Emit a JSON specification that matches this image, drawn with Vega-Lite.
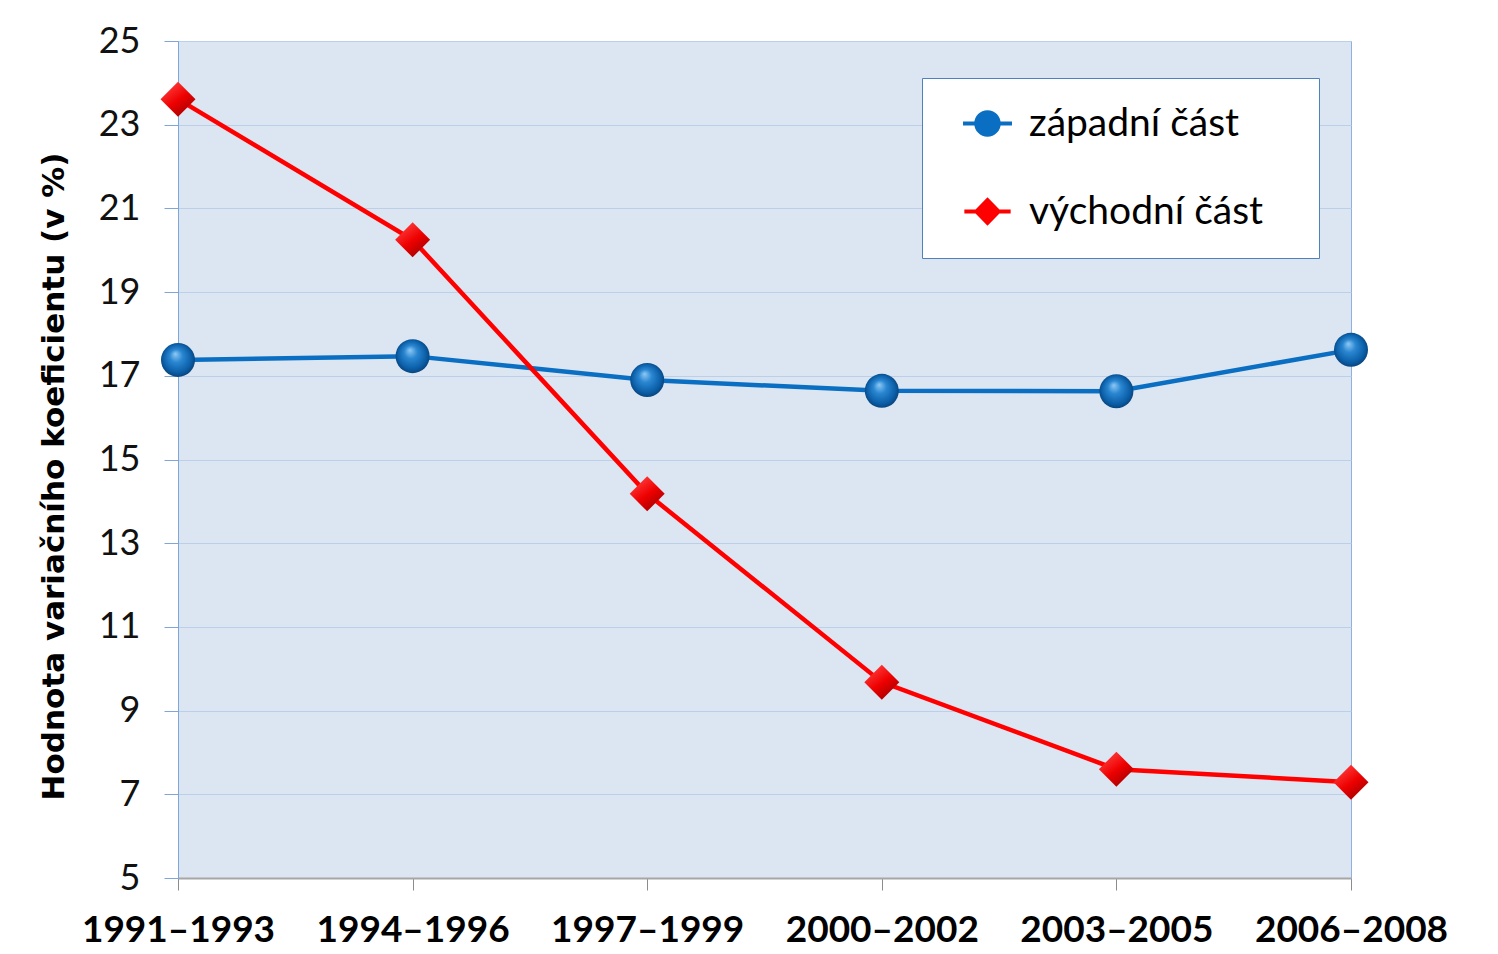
{
  "$schema": "https://vega.github.io/schema/vega-lite/v6.json",
  "autosize": "none",
  "padding": {"left": 178, "top": 41, "right": 147, "bottom": 76},
  "width": 1173,
  "height": 837,
  "background": "white",
  "config": {
    "font": "Lato",
    "view": {"fill": "#dce6f2", "stroke": "#8fb1dc", "strokeWidth": 1}
  },
  "data": {
    "values": [
      {"period": "1991–1993", "region": "západní část", "value": 17.38},
      {"period": "1994–1996", "region": "západní část", "value": 17.47},
      {"period": "1997–1999", "region": "západní část", "value": 16.90},
      {"period": "2000–2002", "region": "západní část", "value": 16.64},
      {"period": "2003–2005", "region": "západní část", "value": 16.63},
      {"period": "2006–2008", "region": "západní část", "value": 17.62},
      {"period": "1991–1993", "region": "východní část", "value": 23.61},
      {"period": "1994–1996", "region": "východní část", "value": 20.25},
      {"period": "1997–1999", "region": "východní část", "value": 14.18},
      {"period": "2000–2002", "region": "východní část", "value": 9.68},
      {"period": "2003–2005", "region": "východní část", "value": 7.60},
      {"period": "2006–2008", "region": "východní část", "value": 7.29}
    ]
  },
  "encoding": {
    "x": {
      "field": "period",
      "type": "ordinal",
      "sort": null,
      "scale": {"type": "point", "padding": 0},
      "axis": {
        "title": null,
        "labelAngle": 0,
        "labelFont": "Lato",
        "labelFontWeight": "bold",
        "labelFontSize": 37,
        "labelColor": "#000000",
        "labelPadding": 22,
        "labelLimit": 400,
        "labelOverlap": false,
        "tickSize": 12,
        "tickColor": "#8c8c8c",
        "tickWidth": 1,
        "domainColor": "#a6a6a6",
        "domainWidth": 2,
        "grid": false
      }
    },
    "y": {
      "field": "value",
      "type": "quantitative",
      "scale": {"domain": [5, 25], "nice": false, "zero": false},
      "axis": {
        "title": "Hodnota variačního koeficientu (v %)",
        "titleFont": "DejaVu Sans",
        "titleFontWeight": "bold",
        "titleFontSize": 31,
        "titleColor": "#000000",
        "titlePadding": 28,
        "titleY": 435,
        "values": [5, 7, 9, 11, 13, 15, 17, 19, 21, 23, 25],
        "labelFont": "Lato",
        "labelFontSize": 36,
        "labelColor": "#111111",
        "labelPadding": 24,
        "tickSize": 14,
        "tickColor": "#7ea6d8",
        "domainColor": "#7ea6d8",
        "domainWidth": 1,
        "grid": true,
        "gridColor": "#bccfe8",
        "gridWidth": 1.2
      }
    }
  },
  "layer": [
    {
      "transform": [{"filter": "datum.region === 'západní část'"}],
      "mark": {"type": "line", "color": "#0a6fc2", "strokeWidth": 4.5},
      "encoding": {}
    },
    {
      "transform": [{"filter": "datum.region === 'východní část'"}],
      "mark": {"type": "line", "color": "#ff0000", "strokeWidth": 4.5},
      "encoding": {}
    },
    {
      "transform": [{"filter": "datum.region === 'západní část'"}],
      "mark": {
        "type": "point",
        "shape": "circle",
        "filled": true,
        "opacity": 1,
        "size": 1156,
        "strokeWidth": 0,
        "fill": {
          "gradient": "radial",
          "x1": 0.42, "y1": 0.32, "r1": 0,
          "x2": 0.5, "y2": 0.5, "r2": 0.55,
          "stops": [
            {"offset": 0, "color": "#8fcaf5"},
            {"offset": 0.35, "color": "#2a86d1"},
            {"offset": 0.75, "color": "#0b5fa8"},
            {"offset": 1, "color": "#073c70"}
          ]
        }
      }
    },
    {
      "transform": [{"filter": "datum.region === 'východní část'"}],
      "mark": {
        "type": "point",
        "shape": "diamond",
        "filled": true,
        "opacity": 1,
        "size": 1225,
        "strokeWidth": 0,
        "fill": {
          "gradient": "linear",
          "x1": 0.2, "y1": 0.1, "x2": 0.8, "y2": 0.95,
          "stops": [
            {"offset": 0, "color": "#ff3b3b"},
            {"offset": 0.5, "color": "#ee0000"},
            {"offset": 1, "color": "#a30000"}
          ]
        }
      }
    },
    {
      "transform": [{"filter": "false"}],
      "mark": {"type": "point", "filled": true, "opacity": 1, "size": 700},
      "encoding": {
        "color": {
          "field": "region",
          "type": "nominal",
          "scale": {"domain": ["západní část", "východní část"], "range": ["#0a6fc2", "#ff0000"]},
          "legend": {
            "title": null,
            "orient": "none",
            "legendX": 744,
            "legendY": 37,
            "fillColor": "#ffffff",
            "strokeColor": "#4f81bd",
            "padding": 26,
            "symbolOffset": 20,
            "symbolSize": 700,
            "symbolStrokeWidth": 0,
            "labelFont": "Lato",
            "labelFontSize": 39,
            "labelColor": "#000000",
            "labelOffset": 22,
            "labelLimit": 500,
            "rowPadding": 48,
            "labelExpr": "datum.label + '\u2800'"
          }
        },
        "shape": {
          "field": "region",
          "type": "nominal",
          "scale": {
            "domain": ["západní část", "východní část"],
            "range": [
              "M-1.85,-0.16H1.85V0.16H-1.85Z M-1,0A1,1 0 1,1 1,0A1,1 0 1,1 -1,0Z",
              "M-1.75,-0.15H1.75V0.15H-1.75Z M0,-1.08L1.05,0L0,1.08L-1.05,0Z"
            ]
          },
          "legend": {
            "title": null,
            "orient": "none",
            "legendX": 744,
            "legendY": 37,
            "fillColor": "#ffffff",
            "strokeColor": "#4f81bd",
            "padding": 26,
            "symbolOffset": 20,
            "symbolSize": 700,
            "symbolStrokeWidth": 0,
            "labelFont": "Lato",
            "labelFontSize": 39,
            "labelColor": "#000000",
            "labelOffset": 22,
            "labelLimit": 500,
            "rowPadding": 48,
            "labelExpr": "datum.label + '\u2800'"
          }
        }
      }
    }
  ]
}
